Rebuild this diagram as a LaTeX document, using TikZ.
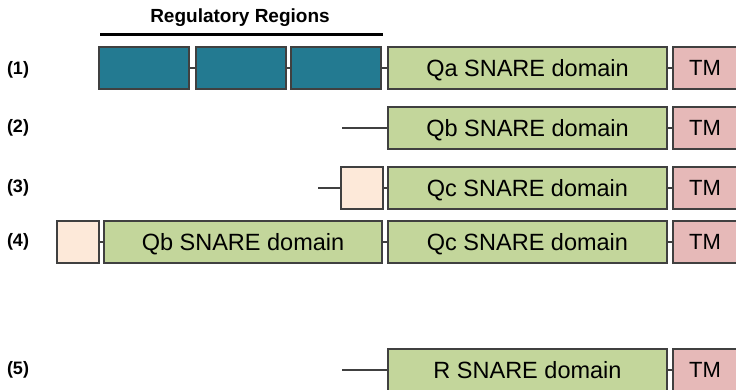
\documentclass[tikz,border=0pt]{standalone}
\usepackage{fontspec}
\setmainfont{Liberation Sans}
\definecolor{teal1}{HTML}{237A91}
\definecolor{green1}{HTML}{C3D69B}
\definecolor{pink1}{HTML}{E6B9B8}
\definecolor{peach1}{HTML}{FDE9D9}
\definecolor{edge1}{HTML}{404040}
\begin{document}
\begin{tikzpicture}[x=1pt,y=-1pt,
  box/.style={draw=edge1, line width=1.4pt, rectangle, inner sep=0pt, minimum height=42pt},
  blue/.style={box, fill=teal1, minimum width=90pt},
  dom/.style={box, fill=green1, font=\fontsize{23.5}{25}\selectfont, text height=16.8pt, text depth=0pt},
  tm/.style={box, fill=pink1, minimum width=64pt, font=\fontsize{22}{24}\selectfont, text height=15.8pt, text depth=0pt},
  small/.style={box, fill=peach1, minimum width=42pt},
  link/.style={draw=edge1, line width=1.4pt},
  lab/.style={font=\fontsize{18}{20}\selectfont\bfseries}]
\path[use as bounding box, fill=white] (0,0) rectangle (736,390);
\begin{scope}
\clip (0,0) rectangle (736,390);
% title
\node[font=\fontsize{19}{21}\selectfont\bfseries] (title) at (240,18) {Regulatory Regions};
\coordinate (brL) at (100,35);
\coordinate (brR) at (383,35);
\draw[line width=3pt, black] (brL) -- (brR);
% row 1
\node[lab] (l1) at (18,70) {(1)};
\node[blue] (b1) at (144,68) {};
\node[blue] (b2) at (241,68) {};
\node[blue] (b3) at (336,68) {};
\node[dom, minimum width=279pt] (qa) at (527.5,68) {Qa SNARE domain};
\node[tm] (tm1) at (705,68) {TM};
\draw[link] (b1.east) -- (b2.west);
\draw[link] (b2.east) -- (b3.west);
\draw[link] (b3.east) -- (qa.west);
\draw[link] (qa.east) -- (tm1.west);
% row 2
\node[lab] (l2) at (18,128) {(2)};
\coordinate (s2) at (342,128);
\node[dom, minimum width=279pt] (qb) at (527.5,128) {Qb SNARE domain};
\node[tm] (tm2) at (705,128) {TM};
\draw[link] (s2) -- (qb.west);
\draw[link] (qb.east) -- (tm2.west);
% row 3
\node[lab] (l3) at (18,188) {(3)};
\coordinate (s3) at (318,188);
\node[small] (p3) at (362,188) {};
\node[dom, minimum width=279pt] (qc) at (527.5,188) {Qc SNARE domain};
\node[tm] (tm3) at (705,188) {TM};
\draw[link] (s3) -- (p3.west);
\draw[link] (p3.east) -- (qc.west);
\draw[link] (qc.east) -- (tm3.west);
% row 4
\node[lab] (l4) at (18,242) {(4)};
\node[small] (p4) at (78,242) {};
\node[dom, minimum width=278pt] (qb4) at (243,242) {Qb SNARE domain};
\node[dom, minimum width=279pt] (qc4) at (527.5,242) {Qc SNARE domain};
\node[tm] (tm4) at (705,242) {TM};
\draw[link] (p4.east) -- (qb4.west);
\draw[link] (qb4.east) -- (qc4.west);
\draw[link] (qc4.east) -- (tm4.west);
% row 5
\node[lab] (l5) at (18,370) {(5)};
\coordinate (s5) at (342,370);
\node[dom, minimum width=279pt] (r5) at (527.5,370) {R SNARE domain};
\node[tm] (tm5) at (705,370) {TM};
\draw[link] (s5) -- (r5.west);
\draw[link] (r5.east) -- (tm5.west);
\end{scope}
\end{tikzpicture}
\end{document}
